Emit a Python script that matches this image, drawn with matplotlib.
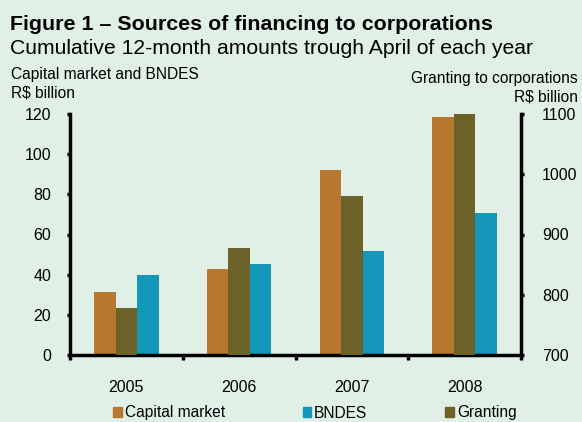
import numpy as np
import matplotlib.pyplot as plt
from matplotlib.patches import Patch

plt.rcParams['font.family'] = ['Liberation Sans', 'DejaVu Sans']

years = ['2005', '2006', '2007', '2008']
capital_market = [31.5, 43, 92, 118.5]
bndes = [40, 45.5, 52, 70.5]
granting = [778, 878, 964, 1100]

BG = '#e1f0e6'
C_CAP = '#b97830'
C_GRA = '#6c6229'
C_BND = '#1497b9'

fig = plt.figure(figsize=(5.82, 4.22), dpi=100, facecolor=BG)
ax1 = fig.add_axes([70 / 582, 67 / 422, 451 / 582, 241 / 422])
ax1.set_facecolor(BG)
ax2 = ax1.twinx()

x = np.arange(len(years))
w = 0.19
ax1.bar(x - w, capital_market, w, color=C_CAP, zorder=2)
ax1.bar(x + w, bndes, w, color=C_BND, zorder=2)
ax2.bar(x, granting, w, color=C_GRA, zorder=2)

ax1.set_xlim(-0.5, 3.5)
ax1.set_ylim(0, 120)
ax2.set_ylim(700, 1100)
ax1.set_yticks(range(0, 121, 20))
ax2.set_yticks(range(700, 1101, 100))

# x ticks at category boundaries, labels at centers
ax1.set_xticks(np.arange(-0.5, 4, 1))
ax1.set_xticklabels([])
ax1.set_xticks(x, minor=True)
ax1.set_xticklabels(years, minor=True)
ax1.tick_params(axis='x', which='major', direction='out', length=3.5, width=2.5)
ax1.tick_params(axis='x', which='minor', length=0, pad=18, labelsize=11.5)
ax1.tick_params(axis='y', direction='out', length=2.5, width=2.5, labelsize=11.5, pad=11)
ax2.tick_params(axis='y', direction='out', length=2.5, width=2.5, labelsize=11.5, pad=12.5)

for ax in (ax1, ax2):
    ax.spines['top'].set_visible(False)
    for s in ('left', 'right', 'bottom'):
        ax.spines[s].set_linewidth(2.5)
ax1.spines['right'].set_visible(False)
ax2.spines['left'].set_visible(False)
ax2.spines['bottom'].set_visible(False)

fig.text(10 / 582, 1 - 25 / 422, 'Figure 1 \u2013 Sources of financing to corporations',
         fontsize=15.4, fontweight='bold', va='center', ha='left')
fig.text(10 / 582, 1 - 48 / 422, 'Cumulative 12-month amounts trough April of each year',
         fontsize=15.2, va='center', ha='left')
fig.text(11 / 582, 1 - 74 / 422, 'Capital market and BNDES', fontsize=11.2, va='center')
fig.text(11 / 582, 1 - 93 / 422, 'R$ billion', fontsize=11.2, va='center')
fig.text(578 / 582, 1 - 79 / 422, 'Granting to corporations', fontsize=11.2, va='center', ha='right')
fig.text(578 / 582, 1 - 97 / 422, 'R$ billion', fontsize=11.2, va='center', ha='right')

handles = [Patch(color=C_CAP, label='Capital market'),
           Patch(color=C_BND, label='BNDES'),
           Patch(color=C_GRA, label='Granting')]
fig.legend(handles=handles, loc='center left', bbox_to_anchor=(113 / 582, 1 - 413 / 422),
           ncol=3, frameon=False, fontsize=11.2, handlelength=0.55, handleheight=0.55,
           handletextpad=0.2, columnspacing=5.0, borderaxespad=0, borderpad=0)

fig.savefig('out.png', dpi=100, facecolor=BG)
